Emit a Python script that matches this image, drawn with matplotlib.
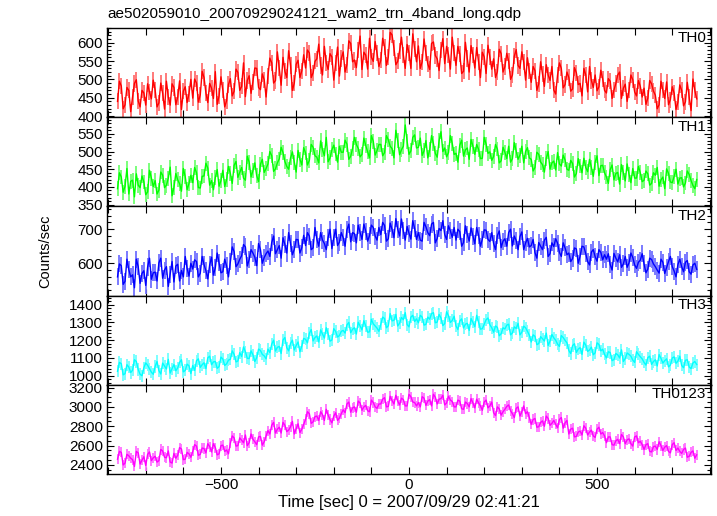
import numpy as np
import matplotlib
matplotlib.use("Agg")
import matplotlib.pyplot as plt
from matplotlib.ticker import MultipleLocator

plt.rcParams['font.family'] = ['Liberation Sans', 'DejaVu Sans']

title = "ae502059010_20070929024121_wam2_trn_4band_long.qdp"
xlabel = "Time [sec] 0 = 2007/09/29 02:41:21"
ylabel = "Counts/sec"
bands = ["TH0", "TH1", "TH2", "TH3", "TH0123"]
colors = ["#ff0000", "#00ff00", "#0000ff", "#00ffff", "#ff00ff"]
err_colors = ["#ff7070", "#70ff70", "#7070ff", "#70ffff", "#ff70ff"]

# two interleaved time grids (bins read at 5 s spacing)
time_a = np.arange(-775, 766, 10)
time_b = np.arange(-770, 761, 10)

th0_a = [440, 482, 431, 470, 452, 499, 425, 463, 488, 447,
         471, 436, 462, 495, 430, 478, 452, 418, 480, 461,
         449, 490, 458, 505, 437, 476, 521, 455, 470, 442,
         502, 468, 519, 481, 453, 510, 494, 530, 472, 499,
         510, 545, 497, 531, 560, 505, 538, 490, 552, 524,
         531, 572, 518, 556, 538, 590, 527, 561, 544, 509,
         575, 540, 598, 553, 580, 527, 566, 612, 549, 571,
         552, 589, 561, 621, 540, 578, 566, 595, 530, 583,
         591, 548, 571, 527, 602, 556, 580, 543, 567, 615,
         538, 569, 522, 557, 592, 531, 548, 574, 516, 560,
         556, 521, 570, 535, 549, 512, 581, 530, 547, 559,
         492, 524, 488, 515, 540, 497, 471, 512, 530, 486,
         505, 474, 518, 489, 530, 466, 497, 512, 480, 501,
         463, 495, 471, 512, 448, 487, 470, 499, 455, 481,
         476, 449, 488, 457, 431, 470, 493, 445, 462, 438,
         470, 439, 452, 501, 447]
th0_b = [495, 420, 478, 412, 489, 441, 470, 430, 465, 498,
         425, 490, 419, 452, 488, 431, 496, 468, 437, 500,
         501, 438, 522, 463, 489, 448, 432, 507, 425, 486,
         455, 528, 470, 545, 497, 462, 531, 478, 515, 452,
         558, 490, 575, 484, 522, 578, 470, 541, 505, 567,
         580, 505, 549, 596, 512, 545, 570, 498, 588, 557,
         520, 605, 548, 532, 618, 574, 528, 560, 603, 535,
         612, 538, 628, 585, 549, 615, 530, 572, 624, 548,
         530, 610, 542, 598, 565, 524, 611, 590, 528, 572,
         590, 516, 601, 520, 566, 587, 505, 561, 593, 528,
         505, 582, 520, 571, 500, 563, 538, 575, 498, 522,
         535, 470, 548, 481, 512, 535, 460, 545, 477, 520,
         468, 532, 486, 455, 512, 535, 478, 469, 525, 470,
         502, 448, 489, 520, 476, 440, 512, 466, 497, 452,
         432, 497, 468, 420, 495, 448, 431, 480, 418, 485,
         428, 492, 415, 470]

th1_a = [395, 428, 402, 380, 419, 437, 398, 414, 386, 425,
         418, 391, 433, 405, 456, 399, 420, 388, 429, 410,
         412, 440, 397, 431, 453, 418, 426, 402, 447, 421,
         438, 461, 427, 455, 419, 470, 446, 432, 464, 441,
         465, 488, 451, 479, 497, 458, 482, 470, 503, 462,
         496, 475, 512, 484, 530, 488, 471, 505, 493, 515,
         498, 521, 487, 540, 509, 492, 517, 482, 529, 503,
         520, 497, 533, 508, 560, 491, 515, 529, 502, 547,
         512, 489, 531, 505, 522, 484, 556, 510, 497, 523,
         495, 518, 487, 510, 534, 492, 506, 481, 521, 499,
         486, 507, 474, 498, 515, 480, 502, 490, 468, 511,
         478, 455, 492, 463, 481, 450, 473, 497, 459, 476,
         447, 466, 438, 459, 481, 443, 455, 470, 432, 461,
         428, 449, 420, 441, 463, 417, 436, 452, 425, 440,
         419, 437, 410, 433, 402, 428, 451, 414, 430, 408,
         426, 411, 435, 404, 421]
th1_b = [440, 385, 452, 416, 372, 405, 431, 378, 447, 401,
         380, 442, 398, 425, 375, 438, 409, 452, 392, 433,
         455, 398, 430, 467, 405, 392, 449, 418, 401, 458,
         410, 472, 441, 425, 487, 428, 468, 415, 478, 452,
         500, 444, 468, 512, 472, 450, 499, 442, 478, 511,
         462, 520, 488, 468, 505, 540, 482, 518, 470, 498,
         532, 478, 509, 520, 485, 538, 500, 545, 490, 520,
         488, 545, 515, 482, 530, 505, 575, 492, 540, 510,
         538, 502, 482, 545, 495, 530, 500, 485, 545, 492,
         470, 532, 505, 478, 515, 520, 480, 540, 495, 475,
         520, 468, 512, 480, 470, 525, 478, 515, 500, 482,
         445, 498, 470, 442, 500, 468, 448, 465, 490, 450,
         475, 428, 480, 440, 455, 478, 430, 488, 460, 440,
         410, 462, 438, 408, 440, 465, 412, 425, 458, 415,
         445, 405, 440, 455, 420, 395, 438, 412, 450, 425,
         400, 445, 418, 395]

th2_a = [560, 593, 547, 581, 566, 612, 541, 578, 589, 553,
         574, 601, 556, 590, 568, 545, 597, 579, 620, 562,
         583, 605, 571, 596, 554, 618, 587, 601, 575, 592,
         605, 634, 598, 622, 648, 611, 630, 593, 640, 617,
         636, 661, 628, 652, 675, 630, 657, 641, 669, 646,
         652, 680, 645, 671, 690, 658, 676, 643, 700, 662,
         675, 698, 663, 687, 712, 670, 694, 681, 705, 668,
         684, 711, 672, 699, 731, 680, 695, 708, 671, 702,
         690, 665, 707, 681, 720, 673, 696, 684, 710, 676,
         668, 693, 661, 685, 704, 657, 682, 671, 697, 664,
         658, 681, 646, 672, 690, 651, 667, 678, 640, 673,
         652, 631, 661, 640, 676, 628, 649, 659, 620, 645,
         630, 614, 642, 621, 648, 605, 633, 619, 640, 610,
         612, 596, 629, 604, 588, 620, 601, 617, 585, 609,
         598, 583, 611, 590, 571, 603, 588, 620, 577, 596,
         590, 603, 575, 595, 582]
th2_b = [598, 538, 612, 560, 528, 590, 570, 535, 615, 572,
         548, 615, 580, 532, 605, 592, 548, 560, 585, 600,
         610, 560, 620, 578, 595, 565, 630, 572, 612, 560,
         648, 590, 612, 655, 592, 640, 618, 658, 600, 628,
         620, 680, 640, 615, 655, 690, 625, 670, 630, 682,
         690, 640, 705, 650, 668, 640, 700, 675, 652, 690,
         650, 715, 690, 660, 690, 715, 665, 712, 680, 705,
         720, 665, 718, 675, 700, 730, 668, 688, 725, 670,
         668, 720, 690, 715, 660, 702, 725, 670, 695, 705,
         700, 650, 710, 665, 680, 705, 650, 698, 670, 690,
         640, 695, 665, 650, 700, 680, 640, 692, 660, 648,
         670, 615, 650, 668, 620, 660, 672, 632, 660, 625,
         605, 645, 600, 650, 628, 595, 640, 606, 632, 625,
         628, 580, 615, 625, 598, 588, 630, 595, 603, 628,
         572, 615, 598, 580, 612, 570, 605, 590, 560, 612,
         575, 608, 568, 600]

th3_a = [1025, 1068, 1012, 1049, 1031, 1080, 1008, 1045, 1059, 1020,
         1052, 1029, 1071, 1038, 1015, 1063, 1044, 1090, 1030, 1056,
         1058, 1085, 1047, 1073, 1101, 1062, 1080, 1051, 1094, 1067,
         1092, 1120, 1083, 1108, 1135, 1097, 1118, 1101, 1142, 1112,
         1150, 1178, 1139, 1165, 1201, 1158, 1182, 1145, 1190, 1167,
         1205, 1238, 1196, 1224, 1258, 1212, 1235, 1201, 1249, 1226,
         1255, 1286, 1242, 1270, 1301, 1258, 1279, 1247, 1292, 1268,
         1290, 1322, 1281, 1309, 1345, 1296, 1315, 1288, 1330, 1305,
         1298, 1330, 1289, 1318, 1355, 1302, 1325, 1294, 1338, 1311,
         1280, 1308, 1269, 1295, 1322, 1276, 1301, 1265, 1315, 1287,
         1245, 1272, 1236, 1263, 1290, 1241, 1266, 1230, 1279, 1250,
         1190, 1222, 1181, 1208, 1240, 1195, 1213, 1178, 1226, 1199,
         1142, 1170, 1131, 1158, 1189, 1137, 1161, 1129, 1176, 1149,
         1100, 1131, 1091, 1118, 1146, 1097, 1120, 1088, 1135, 1107,
         1075, 1102, 1064, 1090, 1119, 1071, 1095, 1060, 1106, 1082,
         1058, 1087, 1049, 1072, 1063]
th3_b = [1075, 1005, 1062, 1018, 1090, 1035, 1000, 1072, 1040, 1008,
         1080, 1010, 1055, 1092, 1040, 1028, 1075, 1022, 1065, 1012,
         1030, 1095, 1062, 1040, 1110, 1078, 1042, 1105, 1058, 1088,
         1140, 1078, 1130, 1162, 1098, 1140, 1080, 1150, 1120, 1095,
         1130, 1200, 1160, 1125, 1215, 1140, 1200, 1170, 1135, 1210,
         1185, 1260, 1215, 1190, 1235, 1270, 1195, 1265, 1218, 1250,
         1240, 1300, 1262, 1235, 1280, 1310, 1245, 1318, 1280, 1250,
         1330, 1270, 1350, 1312, 1280, 1328, 1355, 1275, 1340, 1320,
         1340, 1285, 1330, 1350, 1298, 1345, 1282, 1360, 1300, 1335,
         1260, 1320, 1290, 1255, 1300, 1340, 1262, 1290, 1325, 1270,
         1280, 1225, 1270, 1285, 1230, 1275, 1295, 1245, 1270, 1228,
         1230, 1175, 1220, 1195, 1170, 1232, 1200, 1165, 1215, 1185,
         1125, 1180, 1150, 1120, 1172, 1145, 1118, 1185, 1140, 1120,
         1135, 1085, 1125, 1100, 1080, 1128, 1110, 1075, 1120, 1095,
         1060, 1110, 1080, 1055, 1098, 1085, 1050, 1100, 1070, 1110,
         1045, 1090, 1040, 1080]

th0123_a = [2460, 2530, 2420, 2495, 2455, 2540, 2410, 2485, 2510, 2445,
            2490, 2445, 2545, 2475, 2430, 2520, 2500, 2565, 2460, 2515,
            2540, 2595, 2510, 2570, 2620, 2535, 2580, 2515, 2605, 2555,
            2625, 2680, 2600, 2655, 2710, 2630, 2665, 2610, 2695, 2640,
            2755, 2810, 2730, 2790, 2840, 2745, 2795, 2720, 2825, 2770,
            2870, 2930, 2845, 2905, 2950, 2860, 2915, 2835, 2940, 2885,
            2970, 3030, 2945, 3000, 3060, 2965, 3015, 2950, 3045, 2985,
            3030, 3095, 3005, 3065, 3120, 3020, 3075, 3010, 3105, 3045,
            3045, 3105, 3015, 3075, 3130, 3030, 3085, 3020, 3110, 3055,
            3000, 3060, 2975, 3035, 3085, 2990, 3040, 2965, 3070, 3010,
            2940, 3000, 2915, 2975, 3020, 2930, 2985, 2905, 3010, 2950,
            2820, 2880, 2795, 2855, 2905, 2810, 2860, 2785, 2890, 2835,
            2720, 2780, 2695, 2750, 2805, 2710, 2760, 2685, 2790, 2735,
            2630, 2690, 2605, 2665, 2715, 2620, 2670, 2595, 2700, 2645,
            2560, 2620, 2535, 2595, 2640, 2550, 2600, 2525, 2630, 2575,
            2520, 2575, 2490, 2545, 2505]
th0123_b = [2540, 2400, 2510, 2470, 2385, 2525, 2450, 2395, 2535, 2475,
            2430, 2560, 2480, 2545, 2420, 2470, 2580, 2455, 2530, 2480,
            2610, 2500, 2575, 2525, 2590, 2620, 2505, 2600, 2540, 2515,
            2700, 2595, 2680, 2630, 2600, 2720, 2640, 2690, 2605, 2700,
            2720, 2840, 2770, 2730, 2810, 2760, 2850, 2775, 2735, 2820,
            2950, 2830, 2900, 2860, 2920, 2975, 2870, 2905, 2860, 2930,
            2940, 3050, 2990, 2945, 3040, 3000, 2960, 3070, 3000, 3030,
            3080, 3000, 3110, 3030, 3060, 3090, 3010, 3130, 3050, 3010,
            3000, 3090, 3060, 3010, 3100, 3080, 3120, 3040, 3070, 3000,
            3070, 2980, 3050, 3000, 3040, 3080, 3010, 3050, 2990, 3050,
            2910, 2980, 2950, 3005, 2960, 2890, 3000, 2950, 2930, 2890,
            2870, 2790, 2840, 2800, 2880, 2830, 2820, 2870, 2780, 2860,
            2770, 2690, 2740, 2710, 2780, 2740, 2700, 2770, 2720, 2700,
            2690, 2610, 2650, 2620, 2690, 2660, 2620, 2690, 2630, 2610,
            2610, 2540, 2590, 2560, 2600, 2585, 2540, 2610, 2550, 2540,
            2560, 2480, 2530, 2470]

errors = [22, 21, 25, 34, 52]
ylims = [(397, 640), (345, 597), (505, 767), (949, 1451), (2307, 3228)]
major_steps = [50, 50, 100, 100, 200]
minor_steps = [10, 10, 20, 20, 50]
series_a = [th0_a, th1_a, th2_a, th3_a, th0123_a]
series_b = [th0_b, th1_b, th2_b, th3_b, th0123_b]

t_all = np.concatenate([time_a, time_b])
order = np.argsort(t_all, kind='stable')
time = t_all[order]

fig = plt.figure(figsize=(7.17, 5.16), dpi=100)
gs = fig.add_gridspec(5, 1, left=107/717, right=711/717, top=1-28/516,
                      bottom=1-474/516, hspace=0)
axes = [fig.add_subplot(gs[i]) for i in range(5)]

for i, ax in enumerate(axes):
    y = np.concatenate([series_a[i], series_b[i]])[order]
    ax.vlines(time, y - errors[i], y + errors[i], color=err_colors[i], lw=1.3)
    ax.plot(time, y, color=colors[i], lw=1.0)
    ax.set_xlim(-803, 803)
    ax.set_ylim(*ylims[i])
    ax.xaxis.set_major_locator(MultipleLocator(500))
    ax.xaxis.set_minor_locator(MultipleLocator(100))
    ax.yaxis.set_major_locator(MultipleLocator(major_steps[i]))
    ax.yaxis.set_minor_locator(MultipleLocator(minor_steps[i]))
    ax.tick_params(which='both', direction='in', top=True, right=True,
                   labelsize=11, width=0.8)
    ax.tick_params(which='major', length=5, pad=3)
    ax.tick_params(which='minor', length=3)
    ax.tick_params(axis='x', which='minor', length=5)
    for s in ax.spines.values():
        s.set_linewidth(1.0)
    ax.text(0.992, 0.97, bands[i], transform=ax.transAxes, ha='right',
            va='top', fontsize=11, zorder=5)
    if i < 4:
        ax.tick_params(labelbottom=False)

axes[-1].set_xlabel(xlabel, fontsize=12, labelpad=2)
fig.text(45/717, 1-251/516, ylabel, rotation=90, ha='center', va='center',
         fontsize=10.5)
fig.text(107/717, 1-14/516, title, ha='left', va='center', fontsize=11)

fig.savefig("out.png", dpi=100)
